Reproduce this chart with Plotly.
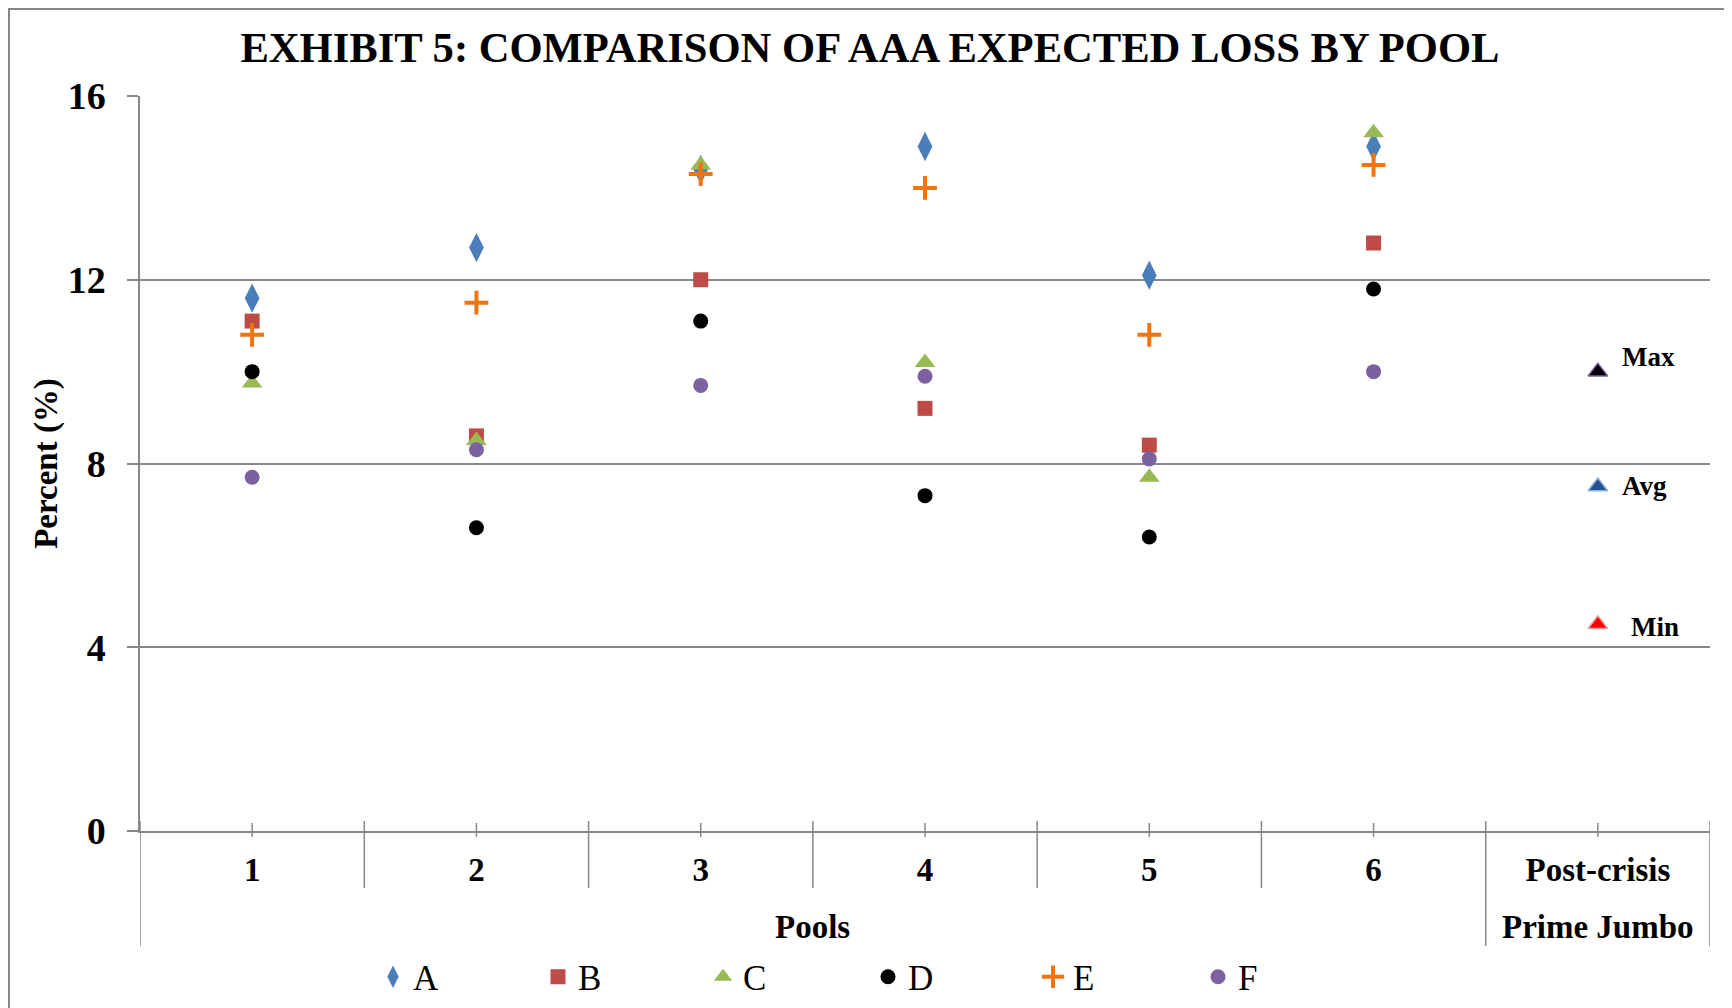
import plotly.graph_objects as go

# ---------------- data ----------------
categories = ["1", "2", "3", "4", "5", "6", "Post-crisis"]
pool_categories = ["1", "2", "3", "4", "5", "6"]

series_names = ["A", "B", "C", "D", "E", "F"]
A = [11.6, 12.7, 14.4, 14.9, 12.1, 14.9]
B = [11.1, 8.6, 12.0, 9.2, 8.4, 12.8]
C = [9.75, 8.5, 14.5, 10.2, 7.7, 15.2]
D = [10.0, 6.6, 11.1, 7.3, 6.4, 11.8]
E = [10.8, 11.5, 14.3, 14.0, 10.8, 14.5]
F = [7.7, 8.3, 9.7, 9.9, 8.1, 10.0]

post_labels = ["Max", "Avg", "Min"]
post_values = [10.0, 7.5, 4.5]

y_ticks = [0, 4, 8, 12, 16]
group_labels = ["Pools", "Prime Jumbo"]

# ---------------- styling ----------------
FONT = "Liberation Serif, Times New Roman, serif"
GRAY = "#878787"

# page has an 8px body margin; figure is sized so the plot lands where the reference has it
FIG_W, FIG_H = 1724, 1000
PLOT_L, PLOT_R, PLOT_T, PLOT_B = 132, 1702, 88, 823
PLOT_H = PLOT_B - PLOT_T
PLOT_W = PLOT_R - PLOT_L


def py(px):  # figure pixel y -> paper y
    return (PLOT_B - px) / PLOT_H


def pxp(px):  # figure pixel x -> paper x
    return (px - PLOT_L) / PLOT_W


styles = {
    "A": dict(symbol="diamond-tall", size=21, color="#4A7EBB"),
    "B": dict(symbol="square", size=15, color="#BE4B48"),
    "C": dict(symbol="triangle-up", size=18, color="#98B954"),
    "D": dict(symbol="circle", size=15, color="#000000"),
    "E": dict(symbol="cross-thin", size=17, color="#EE7510"),
    "F": dict(symbol="circle", size=15, color="#7D60A0"),
}
series_values = {"A": A, "B": B, "C": C, "D": D, "E": E, "F": F}

fig = go.Figure()

for name in series_names:
    st = styles[name]
    if st["symbol"] == "cross-thin":
        marker = dict(symbol="cross-thin", size=st["size"],
                      line=dict(color=st["color"], width=4), color=st["color"])
    else:
        marker = dict(symbol=st["symbol"], size=st["size"], color=st["color"],
                      line=dict(width=0))
    fig.add_trace(go.Scatter(
        x=pool_categories, y=series_values[name], mode="markers",
        name=name, marker=marker, showlegend=True,
    ))

post_fill = ["#000000", "#24548F", "#FF0000"]
post_line = ["#7D60A0", "#8FB0DD", "#E8A0A0"]
for lab, val, fc, lc in zip(post_labels, post_values, post_fill, post_line):
    fig.add_trace(go.Scatter(
        x=["Post-crisis"], y=[val], mode="markers", name=lab, showlegend=False,
        marker=dict(symbol="triangle-up", size=17, color=fc, line=dict(color=lc, width=1.5)),
    ))

# ---------------- shapes (dividers, ticks, border) ----------------
shapes = []
top_y = py(813)
inner_bot = py(880)
outer_bot = py(938)
for b in [0.5, 1.5, 2.5, 3.5, 4.5]:
    shapes.append(dict(type="line", xref="x", yref="paper", x0=b, x1=b,
                       y0=top_y, y1=inner_bot, line=dict(color=GRAY, width=1.5)))
for b in [-0.5, 5.5, 6.5]:
    shapes.append(dict(type="line", xref="x", yref="paper", x0=b, x1=b,
                       y0=top_y, y1=outer_bot, line=dict(color=GRAY, width=1.5)))
for i in range(len(categories)):
    shapes.append(dict(type="line", xref="x", yref="paper", x0=i, x1=i,
                       y0=py(815), y1=py(829), line=dict(color=GRAY, width=1.5)))
# outer chart border
shapes.append(dict(type="rect", xref="paper", yref="paper",
                   x0=pxp(1), x1=pxp(FIG_W + 20), y0=py(FIG_H + 60), y1=py(1),
                   line=dict(color=GRAY, width=2), fillcolor="rgba(0,0,0,0)"))

annotations = []
annotations.append(dict(text="<b>Pools</b>", xref="x", yref="paper", x=2.5, y=py(919),
                        showarrow=False, xanchor="center", yanchor="middle",
                        font=dict(family=FONT, size=33, color="black")))
annotations.append(dict(text="<b>Prime Jumbo</b>", xref="x", yref="paper", x=6, y=py(919),
                        showarrow=False, xanchor="center", yanchor="middle",
                        font=dict(family=FONT, size=33, color="black")))
shifts = {"Max": (22, 15), "Avg": (22, 0), "Min": (31, -3)}
for lab, val in zip(post_labels, post_values):
    xs, ys = shifts[lab]
    annotations.append(dict(text=f"<b>{lab}</b>", xref="x", yref="y", x=6, y=val,
                            xshift=xs, yshift=ys, showarrow=False,
                            xanchor="left", yanchor="middle",
                            font=dict(family=FONT, size=27, color="black")))

fig.update_layout(
    width=FIG_W, height=FIG_H,
    margin=dict(l=PLOT_L, r=FIG_W - PLOT_R, t=PLOT_T, b=FIG_H - PLOT_B, autoexpand=False),
    paper_bgcolor="white", plot_bgcolor="white",
    title=dict(text="<b>EXHIBIT 5: COMPARISON OF AAA EXPECTED LOSS BY POOL</b>",
               x=0.5, xref="container", xanchor="center",
               y=1 - 39.5 / FIG_H, yref="container", yanchor="middle",
               font=dict(family=FONT, size=42.6, color="black")),
    xaxis=dict(type="category", categoryorder="array", categoryarray=categories,
               tickvals=categories, ticktext=["<b>%s</b>" % c for c in categories],
               range=[-0.5, 6.5], showgrid=False, zeroline=False,
               showline=True, linecolor=GRAY, linewidth=2, ticks="",
               ticklabelstandoff=8,
               tickfont=dict(family=FONT, size=33, color="black")),
    yaxis=dict(range=[0, 16], tickvals=y_ticks,
               ticktext=["<b>%d</b>" % v for v in y_ticks],
               showgrid=True, gridcolor=GRAY, gridwidth=1.5,
               zeroline=False, showline=True, linecolor=GRAY, linewidth=1.5,
               ticks="outside", ticklen=11, tickcolor=GRAY, tickwidth=1.5,
               ticklabelstandoff=14,
               tickfont=dict(family=FONT, size=38, color="black"),
               title=dict(text="<b>Percent (%)</b>", standoff=0,
                          font=dict(family=FONT, size=33, color="black"))),
    legend=dict(orientation="h", x=pxp(365), xanchor="left",
                y=py(969), yanchor="middle",
                entrywidth=120, entrywidthmode="pixels",
                font=dict(family=FONT, size=35, color="black"),
                bgcolor="rgba(0,0,0,0)", itemclick=False),
    shapes=shapes,
    annotations=annotations,
    showlegend=True,
)

fig.write_html("out.html")
